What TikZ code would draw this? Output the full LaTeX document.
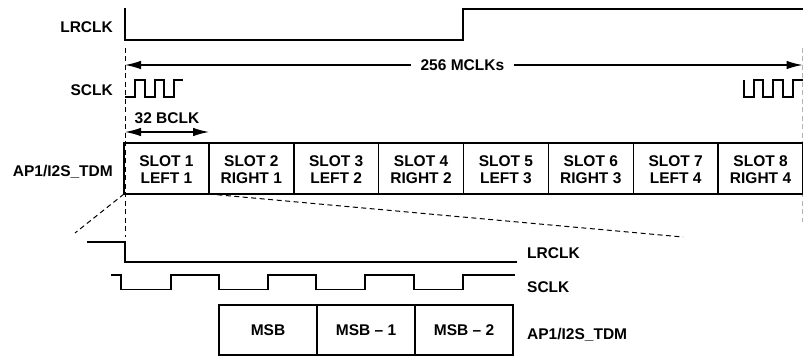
\documentclass[tikz,border=0pt]{standalone}
\usepackage{fontspec}
\setmainfont{Liberation Sans}
\usetikzlibrary{arrows.meta}
\begin{document}
\begin{tikzpicture}[x=1pt,y=-1pt,
  lbl/.style={font=\fontsize{15.5}{17}\selectfont\bfseries, inner sep=0pt, text height=11.1pt, text depth=0pt},
  slottxt/.style={font=\fontsize{15.5}{17}\selectfont\bfseries, inner sep=0pt, align=center},
  slotbox/.style={draw, line width=1.5pt, minimum width=84.875pt, minimum height=51pt, inner sep=0pt, outer sep=0pt},
  bitbox/.style={draw, line width=1.8pt, minimum width=98pt, minimum height=50pt, inner sep=0pt, outer sep=0pt, font=\fontsize{15.5}{17}\selectfont\bfseries},
  sig/.style={line width=1.8pt},
  thinsig/.style={line width=1.3pt},
  dsh/.style={line width=1pt, dash pattern=on 5pt off 3.5pt},
  dim/.style={line width=1.2pt, {Latex[length=16pt,width=8.5pt]}-{Latex[length=16pt,width=8.5pt]}}
]
\useasboundingbox (0,0) rectangle (803,358);
\fill[white] (0,0) rectangle (803,358);

% upper labels
\node[lbl, anchor=east] (lrclkA) at (113,26.5) {LRCLK};
\node[lbl, anchor=east] (sclkA) at (113,89.5) {SCLK};
\node[lbl, anchor=east] (tdmA) at (113,170.5) {AP1/I2S\_TDM};

% top LRCLK
\draw[sig] (125,8) -- (125,40) -- (463,40) -- (463,9.3) -- (803,9.3);

% dashed markers
\coordinate (dTop) at (125,48);
\coordinate (dBot) at (125,237);
\draw[dsh] (dTop) -- (dBot);
\coordinate (rTop) at (802.3,48);
\coordinate (rBot) at (802.3,222);
\draw[dsh, gray!60] (rTop) -- (rBot);

% 256 MCLKs
\coordinate (mL) at (125,65);
\coordinate (mR) at (802.5,65);
\draw[dim] (mL) -- (mR);
\node[lbl, fill=white, inner xsep=10pt, inner ysep=2pt] (mclk) at (462.4,65) {256 MCLKs};

% top SCLK
\draw[thinsig] (125,97) -- (135,97) -- (135,80) -- (145,80) -- (145,97) -- (155,97) -- (155,80) -- (164,80) -- (164,97) -- (174,97) -- (174,80) -- (183,80);
\draw[thinsig] (744,80) -- (744,97) -- (754,97) -- (754,80) -- (763,80) -- (763,97) -- (773,97) -- (773,80) -- (783,80) -- (783,97) -- (793,97) -- (793,80) -- (803,80);

% 32 BCLK
\node[lbl] (bclk) at (167,117.5) {32 BCLK};
\coordinate (bL) at (125,132);
\coordinate (bR) at (209,132);
\draw[dim] (bL) -- (bR);

% slots
\foreach \i/\t in {1/{SLOT 1\\LEFT 1},2/{SLOT 2\\RIGHT 1},3/{SLOT 3\\LEFT 2},4/{SLOT 4\\RIGHT 2},5/{SLOT 5\\LEFT 3},6/{SLOT 6\\RIGHT 3},7/{SLOT 7\\LEFT 4},8/{SLOT 8\\RIGHT 4}}{
  \node[slotbox] (slot\i) at ({124+84.875*(\i-0.5)},168.5) {};
  \node[slottxt] (slott\i) at ([yshift=-1.5pt]slot\i.center) {\t};
}

% zoom dashed lines
\coordinate (zL) at (75,233);
\coordinate (zR) at (683,237);
\draw[dsh] (slot1.south west) -- (zL);
\draw[dsh] (slot1.south east) -- (zR);

% lower LRCLK
\draw[sig] (87,242) -- (125,242) -- (125,262) -- (517,262);
% lower SCLK
\draw[sig] (111,275) -- (121,275) -- (121,289.5) -- (171,289.5) -- (171,275) -- (219,275) -- (219,289.5) -- (268,289.5) -- (268,275) -- (316,275) -- (316,289.5) -- (365,289.5) -- (365,275) -- (414,275) -- (414,289.5) -- (463,289.5) -- (463,275) -- (515,275);

% bit boxes
\node[bitbox] (msb0) at (268,330) {MSB};
\node[bitbox] (msb1) at (366,330) {MSB – 1};
\node[bitbox] (msb2) at (464,330) {MSB – 2};

% lower labels
\node[lbl, anchor=west] (lrclkB) at (527,253) {LRCLK};
\node[lbl, anchor=west] (sclkB) at (527,287) {SCLK};
\node[lbl, anchor=west] (tdmB) at (527,333.5) {AP1/I2S\_TDM};
\end{tikzpicture}
\end{document}
